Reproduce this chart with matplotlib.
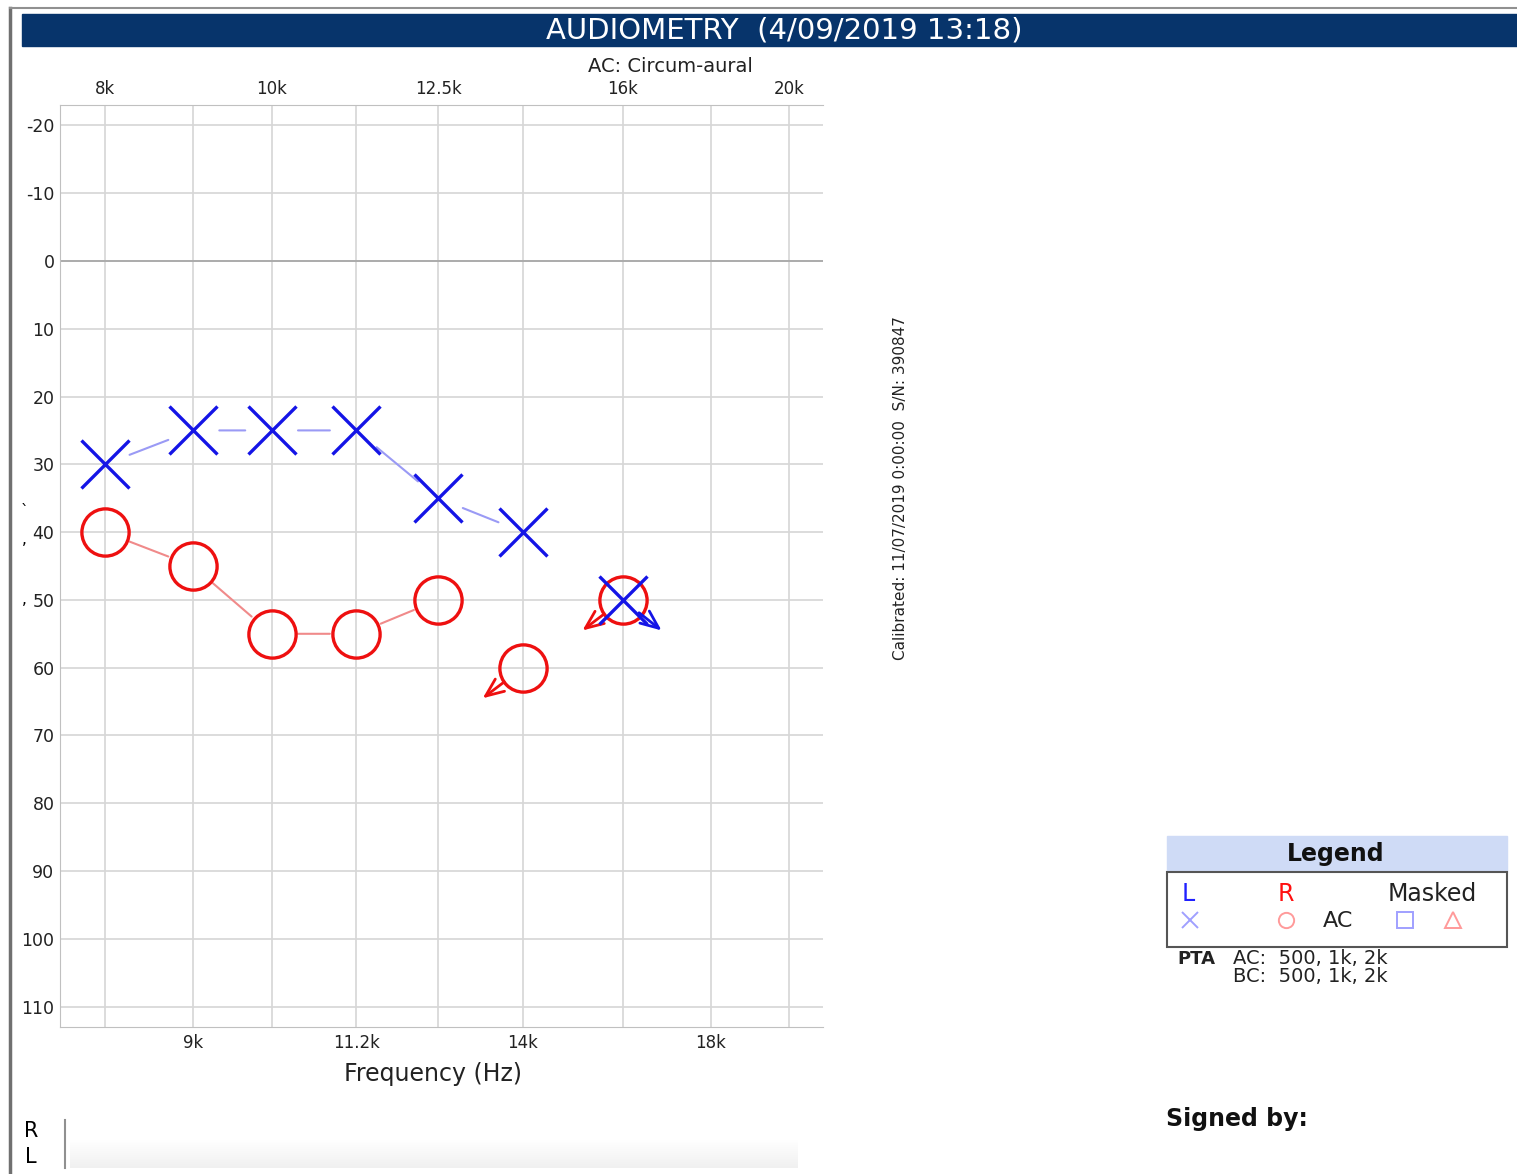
import matplotlib
matplotlib.use("Agg")
import matplotlib.pyplot as plt
from matplotlib.patches import Rectangle
from matplotlib.lines import Line2D
from matplotlib.ticker import NullLocator
import numpy as np

W, H = 1517, 1174

# audiogram data (Hz, dB HL)
freqs = [8000, 9000, 10000, 11200, 12500, 14000, 16000]
left_db = [30, 25, 25, 25, 35, 40, 50]
left_no_resp = [False, False, False, False, False, False, True]
right_db = [40, 45, 55, 55, 50, 60, 50]
right_no_resp = [False, False, False, False, False, True, True]

grid_freqs = [8000, 9000, 10000, 11200, 12500, 14000, 16000, 18000, 20000]
top_ticks = [8000, 10000, 12500, 16000, 20000]
top_labels = ["8k", "10k", "12.5k", "16k", "20k"]
bottom_ticks = [9000, 11200, 14000, 18000]
bottom_labels = ["9k", "11.2k", "14k", "18k"]
db_ticks = list(range(-20, 111, 10))

BLUE = "#1414e6"
RED = "#ee1010"


def fx(px):
    return px / W


def fy(py):
    return 1 - py / H


plt.rcParams["font.family"] = ["DejaVu Sans"]
plt.rcParams["axes.unicode_minus"] = False
fig = plt.figure(figsize=(W / 100, H / 100), dpi=100)

# frame + title bar
fig.add_artist(Line2D([fx(10), fx(10)], [fy(8), fy(1174)], color="#707070", lw=2.5))
fig.add_artist(Line2D([fx(10), fx(1517)], [fy(8), fy(8)], color="#909090", lw=1.5))
fig.add_artist(Rectangle((fx(22), fy(46)), fx(1517) - fx(22), fy(14) - fy(46),
                         color="#07346b", transform=fig.transFigure))
fig.text(fx(784), fy(30), "AUDIOMETRY  (4/09/2019 13:18)", color="white",
         fontsize=21, ha="center", va="center")
fig.text(fx(670), fy(66), "AC: Circum-aural", fontsize=14, ha="center", va="center",
         color="#222222")

# main audiogram
ax = fig.add_axes([fx(60), fy(1027), fx(823) - fx(60), fy(105) - fy(1027)])
ax.set_xscale("log", base=2)
ax.set_xlim(7533, 20920)
ax.set_ylim(113, -23)
ax.set_xticks(grid_freqs)
ax.set_xticklabels([bottom_labels[bottom_ticks.index(f)] if f in bottom_ticks else ""
                    for f in grid_freqs])
ax.xaxis.set_minor_locator(NullLocator())
ax.set_yticks(db_ticks)
ax.tick_params(axis="both", length=0, labelcolor="#222222")
ax.tick_params(axis="x", pad=5, labelsize=12)
ax.tick_params(axis="y", pad=4, labelsize=12.5)
ax.grid(True, color="#d6d6d6", lw=1.2)
ax.axhline(0, color="#a8a8a8", lw=1.3)
for s in ["left", "bottom", "top"]:
    ax.spines[s].set_color("#c0c0c0")
ax.spines["right"].set_visible(False)
ax.set_axisbelow(True)

ax2 = ax.twiny()
ax2.set_xscale("log", base=2)
ax2.set_xlim(ax.get_xlim())
ax2.set_xticks(top_ticks)
ax2.set_xticklabels(top_labels)
ax2.xaxis.set_minor_locator(NullLocator())
ax2.tick_params(axis="x", length=0, labelsize=12, labelcolor="#222222", pad=5)
for s in ax2.spines.values():
    s.set_visible(False)


def connect(db, nr, color):
    for i in range(len(freqs) - 1):
        if nr[i] or nr[i + 1]:
            continue
        ax.annotate("", xy=(freqs[i + 1], db[i + 1]), xytext=(freqs[i], db[i]),
                    arrowprops=dict(arrowstyle="-", color=color, lw=1.5,
                                    shrinkA=19, shrinkB=19))


connect(right_db, right_no_resp, "#f08a8a")
connect(left_db, left_no_resp, "#9a9af5")

ax.plot(freqs, right_db, ls="none", marker="o", ms=34, mfc="none", mec=RED, mew=2.4, zorder=4)
ax.plot(freqs, left_db, ls="none", marker="x", ms=35, mec=BLUE, mew=2.4, zorder=5)

# no-response arrows
arrow_style = "<-,head_length=1.3,head_width=0.55"
for f, d, n in zip(freqs, right_db, right_no_resp):
    if n:
        ax.annotate("", xy=(f, d), xytext=(-29, -22), textcoords="offset points",
                    arrowprops=dict(arrowstyle=arrow_style, color=RED, lw=2,
                                    shrinkA=0, shrinkB=17, mutation_scale=10))
for f, d, n in zip(freqs, left_db, left_no_resp):
    if n:
        ax.annotate("", xy=(f, d), xytext=(28, -22), textcoords="offset points",
                    arrowprops=dict(arrowstyle=arrow_style, color=BLUE, lw=2,
                                    shrinkA=0, shrinkB=15, mutation_scale=10), zorder=6)

fig.text(fx(433), fy(1074), "Frequency (Hz)", fontsize=17, ha="center", va="center",
         color="#222222")

# clipped left-axis remnants
fig.text(fx(25), fy(512), "`", fontsize=11, ha="center", va="center")
fig.text(fx(24), fy(540), ",", fontsize=11, ha="center", va="center")
fig.text(fx(24), fy(600), ",", fontsize=11, ha="center", va="center")

# calibration note
fig.text(fx(901), fy(488), "Calibrated: 11/07/2019 0:00:00  S/N: 390847", rotation=90,
         fontsize=11, ha="center", va="center", color="#222222")

# legend panel
fig.add_artist(Rectangle((fx(1167), fy(872)), fx(1507) - fx(1167), fy(836) - fy(872),
                         color="#cfdbf6", transform=fig.transFigure))
fig.add_artist(Rectangle((fx(1167), fy(947)), fx(1507) - fx(1167), fy(872) - fy(947),
                         facecolor="white", edgecolor="#555555", lw=1.5,
                         transform=fig.transFigure))
fig.text(fx(1336), fy(854), "Legend", fontsize=17, weight="bold", ha="center", va="center",
         color="#111111")
fig.text(fx(1188), fy(894), "L", fontsize=17, color="#2020ff", ha="center", va="center")
fig.text(fx(1286), fy(894), "R", fontsize=17, color="#ff1010", ha="center", va="center")
fig.text(fx(1432), fy(894), "Masked", fontsize=17, color="#222222", ha="center", va="center")
fig.text(fx(1338), fy(921), "AC", fontsize=16, color="#222222", ha="center", va="center")
for x, mk, col in [(1190, "x", "#a0a0ff"), (1286, "o", "#ff9a9a"),
                   (1405, "s", "#a0a0ff"), (1453, "^", "#ff9a9a")]:
    fig.add_artist(Line2D([fx(x)], [fy(920)], marker=mk, ms=11, mfc="none", mec=col,
                          mew=1.4, ls="none"))

fig.text(fx(1177), fy(959), "PTA", fontsize=13, weight="bold", ha="left", va="center",
         color="#222222")
fig.text(fx(1233), fy(959), "AC:  500, 1k, 2k", fontsize=14, ha="left", va="center",
         color="#222222")
fig.text(fx(1233), fy(977), "BC:  500, 1k, 2k", fontsize=14, ha="left", va="center",
         color="#222222")
fig.text(fx(1166), fy(1119), "Signed by:", fontsize=17, weight="bold", ha="left",
         va="center", color="#111111")

# R / L strip at the bottom
fig.text(fx(31), fy(1131), "R", fontsize=15, ha="center", va="center")
fig.text(fx(31), fy(1157), "L", fontsize=15, ha="center", va="center")
fig.add_artist(Line2D([fx(65), fx(65)], [fy(1120), fy(1168)], color="#909090", lw=1.5))
bar = fig.add_axes([fx(70), fy(1168), fx(798) - fx(70), fy(1140) - fy(1168)])
bar.imshow(np.linspace(0, 1, 50)[:, None], aspect="auto", cmap="Greys", vmin=0, vmax=8)
bar.axis("off")

fig.savefig("out.png", dpi=100)
